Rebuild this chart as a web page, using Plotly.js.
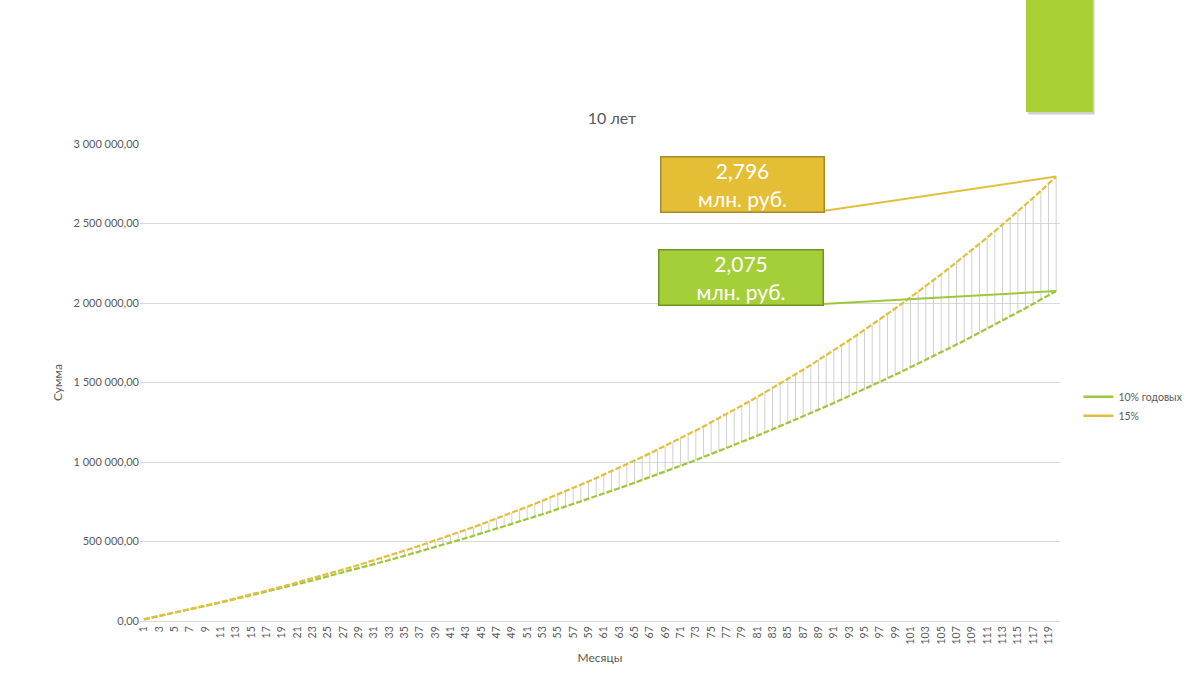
<!DOCTYPE html>
<html>
<head>
<meta charset="utf-8">
<script src="https://cdn.plot.ly/plotly-3.0.1.min.js"></script>
<style>
  html, body { margin: 0; padding: 0; background: #ffffff; }
  #chart { width: 1200px; height: 675px; }
</style>
</head>
<body>
<div id="chart"></div>
<script>
// months 1..120
var months = [];
for (var m = 1; m <= 120; m++) months.push(m);

// balance at 10% a year, rubles
var rate10 = [
    10130, 20344, 30643, 41028, 51500, 62059, 72706, 83442, 94267, 105182,
    116188, 127286, 138476, 149760, 161138, 172611, 184179, 195844, 207606, 219466,
    231425, 243483, 255642, 267902, 280264, 292729, 305298, 317972, 330751, 343637,
    356630, 369732, 382943, 396264, 409696, 423240, 436897, 450668, 464553, 478554,
    492672, 506907, 521261, 535735, 550329, 565045, 579883, 594845, 609932, 625144,
    640483, 655950, 671546, 687272, 703129, 719118, 735240, 751497, 767889, 784418,
    801085, 817890, 834835, 851922, 869151, 886524, 904041, 921704, 939515, 957474,
    975583, 993843, 1012255, 1030820, 1049540, 1068416, 1087449, 1106641, 1125993, 1145506,
    1165182, 1185022, 1205027, 1225199, 1245539, 1266048, 1286728, 1307580, 1328606, 1349807,
    1371185, 1392741, 1414477, 1436394, 1458494, 1480778, 1503248, 1525905, 1548751, 1571787,
    1595015, 1618437, 1642054, 1665868, 1689880, 1714092, 1738506, 1763123, 1787945, 1812974,
    1838212, 1863660, 1889320, 1915194, 1941284, 1967591, 1994117, 2020864, 2047834, 2075029
];

// balance at 15% a year, rubles
var rate15 = [
    10148, 20423, 30827, 41361, 52026, 62825, 73759, 84829, 96038, 107387,
    118878, 130512, 142292, 154219, 166295, 178522, 190902, 203437, 216128, 228978,
    241989, 255162, 268500, 282005, 295678, 309522, 323539, 337732, 352102, 366652,
    381383, 396299, 411401, 426692, 442174, 457849, 473720, 489790, 506061, 522535,
    539215, 556103, 573203, 590516, 608046, 625795, 643766, 661961, 680384, 699037,
    717923, 737045, 756406, 776009, 795857, 815954, 836302, 856904, 877764, 898884,
    920268, 941920, 963842, 986038, 1008512, 1031267, 1054306, 1077633, 1101252, 1125166,
    1149379, 1173895, 1198717, 1223849, 1249295, 1275059, 1301146, 1327559, 1354302, 1381379,
    1408795, 1436553, 1464658, 1493115, 1521927, 1551099, 1580636, 1610542, 1640822, 1671481,
    1702523, 1733953, 1765776, 1797996, 1830619, 1863650, 1897094, 1930956, 1965241, 1999955,
    2035103, 2070690, 2106722, 2143204, 2180142, 2217542, 2255410, 2293751, 2332571, 2371876,
    2411673, 2451967, 2492765, 2534073, 2575897, 2618244, 2661120, 2704532, 2748487, 2795000
];

var seriesNames = ['10% годовых', '15%'];
var calloutTexts = ['2,075<br>млн. руб.', '2,796<br>млн. руб.'];

var green = '#9dc83a';
var yellow = '#e2bf3c';
var textGrey = '#595959';
var fontFamily = 'Lato, "Open Sans", sans-serif';

// high-low lines between the two series
var dropX = [];
var dropY = [];
for (var i = 0; i < months.length; i++)
{
    dropX.push(months[i], months[i], null);
    dropY.push(rate10[i], rate15[i], null);
}

var last = months.length - 1;

var plotlyData = [
    {
        x: dropX,
        y: dropY,
        type: 'scatter',
        mode: 'lines',
        line: {color: '#d0d0d0', width: 1},
        showlegend: false,
        hoverinfo: 'skip'
    },
    {
        x: months,
        y: rate10,
        type: 'scatter',
        mode: 'lines',
        name: seriesNames[0],
        showlegend: false,
        line: {color: green, width: 2.25, dash: '6px,2px'}
    },
    {
        x: months,
        y: rate15,
        type: 'scatter',
        mode: 'lines',
        name: seriesNames[1],
        showlegend: false,
        line: {color: yellow, width: 2.25, dash: '6px,2px'}
    },
    // legend entries, drawn with solid lines as in the original
    {
        x: [null],
        y: [null],
        type: 'scatter',
        mode: 'lines',
        name: seriesNames[0],
        line: {color: green, width: 2.5}
    },
    {
        x: [null],
        y: [null],
        type: 'scatter',
        mode: 'lines',
        name: seriesNames[1],
        line: {color: yellow, width: 2.5}
    }
];

var plotlyLayout = {
    width: 1200,
    height: 675,
    margin: {l: 140, r: 138, t: 144, b: 54},
    paper_bgcolor: '#ffffff',
    plot_bgcolor: '#ffffff',
    separators: ', ',
    font: {family: fontFamily, color: textGrey, size: 11},
    title: {
        text: '10 лет',
        x: 0.51,
        xanchor: 'center',
        y: 0.825,
        yanchor: 'middle',
        font: {size: 16, color: textGrey}
    },
    xaxis: {
        range: [0.5, 120.5],
        tick0: 1,
        dtick: 2,
        tickangle: -90,
        showgrid: false,
        zeroline: false,
        showline: true,
        linecolor: '#d9d9d9',
        linewidth: 1,
        ticks: '',
        tickfont: {size: 10.5, color: textGrey},
        automargin: false,
        title: {text: 'Месяцы', font: {size: 12, color: textGrey}, standoff: 10}
    },
    yaxis: {
        range: [0, 3000000],
        dtick: 500000,
        tickformat: ',.2f',
        showgrid: true,
        gridcolor: '#d9d9d9',
        zeroline: false,
        showline: false,
        ticks: '',
        ticklen: 0,
        tickfont: {size: 11, color: textGrey},
        automargin: false,
        title: {text: 'Сумма', font: {size: 12, color: textGrey}, standoff: 8}
    },
    legend: {
        x: 1.02,
        y: 0.45,
        xanchor: 'left',
        yanchor: 'middle',
        font: {size: 10.5, color: textGrey},
        itemwidth: 30,
        tracegroupgap: 0,
        bgcolor: 'rgba(0,0,0,0)'
    },
    shapes: [
        // leader lines from callout boxes to the last points
        {
            type: 'line', xref: 'x', yref: 'y',
            x0: 89.6, y0: 2578000, x1: months[last], y1: rate15[last],
            line: {color: yellow, width: 2}
        },
        {
            type: 'line', xref: 'x', yref: 'y',
            x0: 89.5, y0: 1993000, x1: months[last], y1: rate10[last],
            line: {color: green, width: 2}
        },
        // green decorative block top right, with shadow
        {
            type: 'rect', xref: 'paper', yref: 'paper', layer: 'above',
            x0: 0.9655, x1: 1.0375, y0: 1.062, y1: 1.31,
            fillcolor: '#a0a0a0', line: {width: 0}, opacity: 0.5
        },
        {
            type: 'rect', xref: 'paper', yref: 'paper', layer: 'above',
            x0: 0.963, x1: 1.0358, y0: 1.067, y1: 1.31,
            fillcolor: '#a9d134', line: {width: 0}
        }
    ],
    annotations: [
        {
            xref: 'paper', yref: 'paper',
            x: 0.6546, y: 0.915,
            xanchor: 'center', yanchor: 'middle',
            text: calloutTexts[1],
            showarrow: false,
            width: 160, height: 52,
            bgcolor: '#e4be34',
            bordercolor: '#a58a2a',
            borderwidth: 1.5,
            font: {family: fontFamily, size: 21, color: '#ffffff'}
        },
        {
            xref: 'paper', yref: 'paper',
            x: 0.6530, y: 0.720,
            xanchor: 'center', yanchor: 'middle',
            text: calloutTexts[0],
            showarrow: false,
            width: 161, height: 52,
            bgcolor: '#a5cf38',
            bordercolor: '#6f9424',
            borderwidth: 1.5,
            font: {family: fontFamily, size: 21, color: '#ffffff'}
        }
    ]
};

var plotlyConfig = {
    displayModeBar: false,
    responsive: false
};

Plotly.newPlot('chart', plotlyData, plotlyLayout, plotlyConfig);
</script>
</body>
</html>
